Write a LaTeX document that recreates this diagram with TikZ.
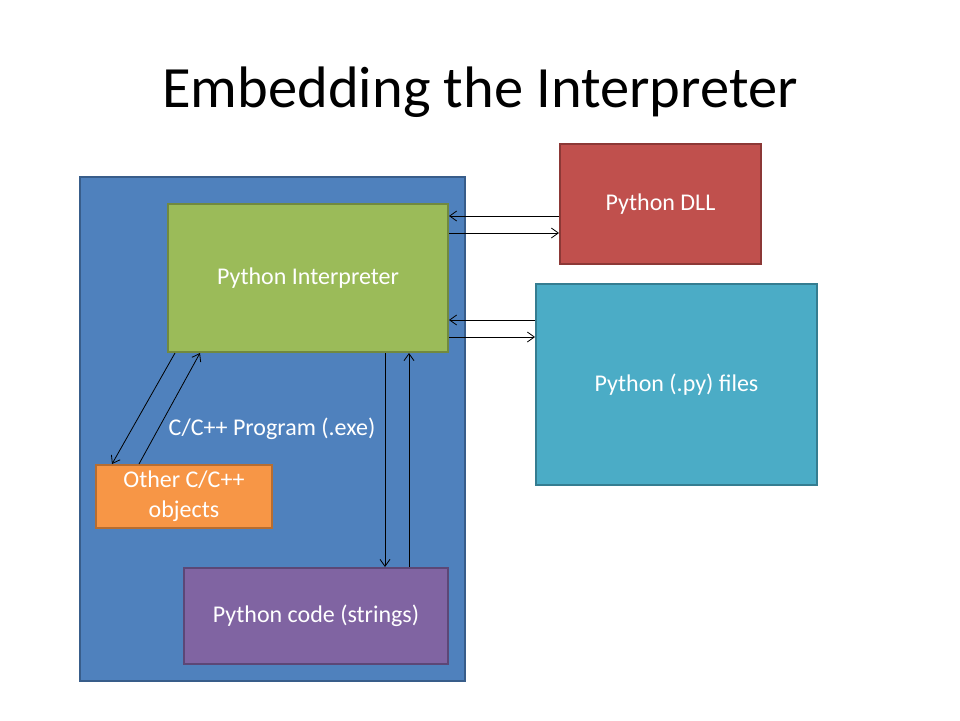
\documentclass[tikz,border=0pt]{standalone}
\usepackage{fontspec}
\setmainfont{Carlito}
\usetikzlibrary{arrows.meta}
\definecolor{cblue}{HTML}{4F81BD}\definecolor{cblueD}{HTML}{385D8A}
\definecolor{cgreen}{HTML}{9BBB59}\definecolor{cgreenD}{HTML}{71893F}
\definecolor{cred}{HTML}{C0504D}\definecolor{credD}{HTML}{8C3836}
\definecolor{cteal}{HTML}{4BACC6}\definecolor{ctealD}{HTML}{357D91}
\definecolor{corange}{HTML}{F79646}\definecolor{corangeD}{HTML}{B66D31}
\definecolor{cpurple}{HTML}{8064A2}\definecolor{cpurpleD}{HTML}{5C4776}
\begin{document}
\begin{tikzpicture}[x=1pt,y=-1pt,
  box/.style={draw, line width=2pt, inner sep=0pt, text=white, align=center,
    font=\fontsize{24}{30}\selectfont},
  arr/.style={-{Straight Barb[length=7pt,width=10pt]}, line width=0.8pt, black}]
\useasboundingbox (0,0) rectangle (960,720);
\fill[white] (0,0) rectangle (960,720);
\node (title) at (480,92) {\fontsize{58.5}{68}\selectfont Embedding the Interpreter};
\node[box, fill=cblue, draw=cblueD, minimum width=385pt, minimum height=504pt] (prog) at (272.5,429) {};
\node[box, fill=cgreen, draw=cgreenD, minimum width=280pt, minimum height=148pt] (green) at (308,278) {Python Interpreter};
\node[box, fill=cred, draw=credD, minimum width=201pt, minimum height=120pt] (red) at (660.5,204) {Python DLL};
\node[box, fill=cteal, draw=ctealD, minimum width=281pt, minimum height=201pt] (teal) at (676.5,384.5) {Python (.py) files};
\node[box, fill=corange, draw=corangeD, minimum width=176pt, minimum height=63pt] (orange) at (184,496.5) {Other C/C++\\objects};
\node[box, fill=cpurple, draw=cpurpleD, minimum width=264pt, minimum height=96pt] (purple) at (316,616) {Python code (strings)};
\node[text=white, font=\fontsize{24}{30}\selectfont] (plabel) at (272,429) {C/C++ Program (.exe)};
% DLL arrows
\draw[arr] ([yshift=-12pt]red.west) -- ([yshift=-12pt]red.west -| green.east);
\draw[arr] ([yshift=-29pt]red.west -| green.east) -- ([yshift=-29pt]red.west);
% py files arrows
\draw[arr] ([yshift=64.5pt]teal.west) -- ([yshift=64.5pt]teal.west -| green.east);
\draw[arr] ([yshift=47.5pt]teal.west -| green.east) -- ([yshift=47.5pt]teal.west);
% strings arrows
\draw[arr] ([xshift=77pt]green.south) -- ([xshift=77pt]green.south |- purple.north);
\draw[arr] ([xshift=101pt]green.south |- purple.north) -- ([xshift=101pt]green.south);
% other objects arrows
\draw[arr] ([xshift=8pt]green.south west) -- ([xshift=17pt]orange.north west);
\draw[arr] ([xshift=44pt]orange.north west) -- ([xshift=33pt]green.south west);
\end{tikzpicture}
\end{document}
